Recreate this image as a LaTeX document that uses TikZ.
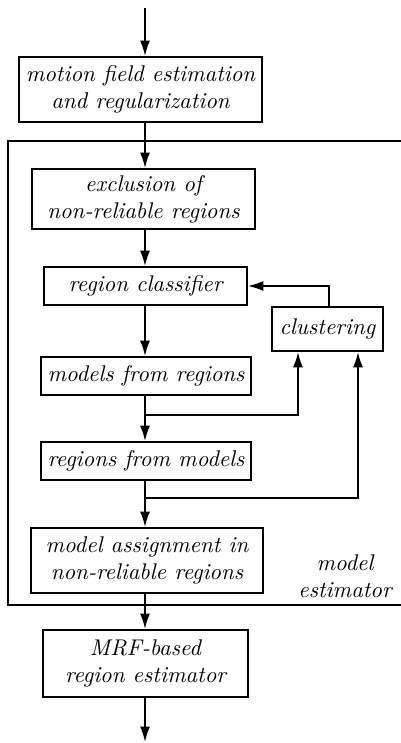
\documentclass[tikz,border=0pt]{standalone}
\usetikzlibrary{arrows.meta}
\begin{document}
\begin{tikzpicture}[x=0.44pt,y=-0.44pt,
  line width=0.8pt,
  box/.style={draw, align=center, inner sep=1pt, font=\itshape},
  arr/.style={-{Latex[length=6.8pt,width=4.4pt]}},
  lbl/.style={align=center, inner sep=0pt, font=\itshape}]
\useasboundingbox (0,0) rectangle (401,743);
\coordinate (spine) at (145,0);
\coordinate (in) at (145,8);
\coordinate (out) at (145,742);
\coordinate (b1) at (145,415);
\coordinate (b2) at (145,498);
\coordinate (b1e) at (298,0);
\coordinate (b2e) at (358,0);
\coordinate (fb) at (329,0);
% frame
\draw (401,141) -- (8,141) -- (8,605) -- (401,605);
% boxes
\node[box, minimum width=106.9pt, minimum height=28.6pt] (m1) at (140.5,89.5) {motion field estimation\\and regularization};
\node[box, minimum width=98.1pt, minimum height=26.4pt] (m2) at (143.5,199) {exclusion of\\non-reliable regions};
\node[box, minimum width=89.3pt, minimum height=16.7pt] (m3) at (145.5,286) {region classifier};
\node[box, minimum width=48.8pt, minimum height=19.4pt] (cl) at (327.5,329) {clustering};
\node[box, minimum width=92.4pt, minimum height=16.7pt] (m4) at (146,376) {models from regions};
\node[box, minimum width=92.4pt, minimum height=16.7pt] (m5) at (146,461) {regions from models};
\node[box, minimum width=102.1pt, minimum height=28.6pt] (m6) at (147,560.5) {model assignment in\\non-reliable regions};
\node[box, minimum width=90.2pt, minimum height=29.5pt] (m7) at (145.5,663.5) {MRF-based\\region estimator};
\node[lbl] (est) at (345,576) {model\\estimator};
% connectors
\draw[arr] (in) -- (m1.north -| spine);
\draw[arr] (m1.south -| spine) -- (m2.north -| spine);
\draw[arr] (m2.south -| spine) -- (m3.north -| spine);
\draw[arr] (m3.south -| spine) -- (m4.north -| spine);
\draw[arr] (m4.south -| spine) -- (m5.north -| spine);
\draw[arr] (b1) -| (b1e |- cl.south);
\draw (m5.south -| spine) -- (b2);
\draw[arr] (b2) -- (m6.north -| spine);
\draw[arr] (b2) -| (b2e |- cl.south);
\draw[arr] (fb |- cl.north) |- (m3.east);
\draw[arr] (m6.south -| spine) -- (m7.north -| spine);
\draw[arr] (m7.south -| spine) -- (out);
\end{tikzpicture}
\end{document}
